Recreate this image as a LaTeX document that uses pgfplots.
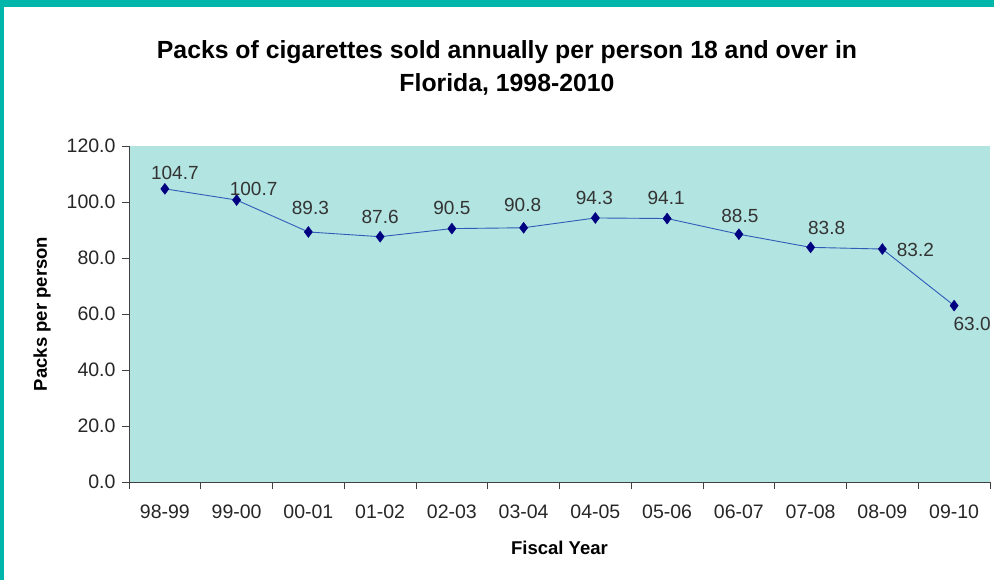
\documentclass[border=0pt]{standalone}
\usepackage{fontspec}
\setmainfont{Liberation Sans}
\usepackage{pgfplots}
\usepackage{pgfplotstable}
\pgfplotsset{compat=1.18}
\definecolor{plotbg}{HTML}{B2E4E1}
\definecolor{frameteal}{HTML}{00B5AA}
\definecolor{lineblue}{HTML}{2E5CB8}
\definecolor{marknavy}{HTML}{000080}
\definecolor{axisgray}{HTML}{404040}
\pgfplotstableread{
x y dx dy
0 104.7 10 16
1 100.7 17 11
2 89.3 2 24
3 87.6 0 20
4 90.5 0 21
5 90.8 -1 23
6 94.3 -1 20
7 94.1 -1 21
8 88.5 1 18
9 83.8 16 19
10 83.2 33 -1
11 63.0 18 -18
}\data
\begin{document}
\begin{tikzpicture}
\path[use as bounding box, fill=white] (-129pt,-98pt) rectangle (865pt,482pt);
\fill[frameteal] (-129pt,-98pt) rectangle (-125pt,482pt);
\fill[frameteal] (-129pt,475pt) rectangle (865pt,482pt);
\begin{axis}[
  at={(0,0)}, anchor=south west,
  scale only axis, width=861pt, height=336pt,
  xmin=-0.5, xmax=11.5, ymin=0, ymax=120,
  axis lines*=left,
  axis line style={axisgray, line width=0.8pt},
  axis background/.style={fill=plotbg},
  xtick={0,...,11},
  xticklabels={98-99,99-00,00-01,01-02,02-03,03-04,04-05,05-06,06-07,07-08,08-09,09-10},
  minor xtick={-0.5,0.5,...,11.5},
  major x tick style={draw=none},
  minor x tick style={axisgray, line width=0.8pt},
  ytick={0,20,...,120},
  y tick style={axisgray, line width=0.8pt},
  tick align=outside,
  major tick length=7pt, minor tick length=7pt,
  /pgf/number format/assume math mode=true,
  yticklabel style={/pgf/number format/fixed, /pgf/number format/fixed zerofill, /pgf/number format/precision=1, font=\fontsize{19.5}{20}\selectfont, xshift=-3pt, text=black!85},
  xticklabel style={font=\fontsize{19.5}{20}\selectfont, yshift=-12pt, text=black!85},
  ylabel={Packs per person},
  ylabel style={at={(axis description cs:0,0.5)}, anchor=center, yshift=87pt, font=\bfseries\fontsize{18.5}{20}\selectfont},
  xlabel={Fiscal Year},
  xlabel style={at={(axis description cs:0.5,0)}, anchor=center, yshift=-66pt, font=\bfseries\fontsize{18.5}{20}\selectfont},
  title={Packs of cigarettes sold annually per person 18 and over in\\[2pt]Florida, 1998-2010},
  title style={at={(axis description cs:0.5,1)}, anchor=center, yshift=72pt, xshift=-52.5pt, align=center, font=\bfseries\fontsize{24.8}{31}\selectfont},
  clip=false,
]
\addplot[color=lineblue, line width=0.9pt, mark=diamond*, mark size=5.5pt,
  mark options={fill=marknavy, draw=marknavy, line width=0.4pt},
  point meta=y,
  visualization depends on={\thisrow{dx}\as\dx},
  visualization depends on={\thisrow{dy}\as\dy},
  nodes near coords={\pgfmathprintnumber[fixed,fixed zerofill,precision=1]{\pgfplotspointmeta}},
  every node near coord/.append style={anchor=center, xshift=\dx pt, yshift=\dy pt, text=black!80, font=\fontsize{19}{20}\selectfont},
] table[x=x,y=y] {\data};
\end{axis}
\end{tikzpicture}
\end{document}
